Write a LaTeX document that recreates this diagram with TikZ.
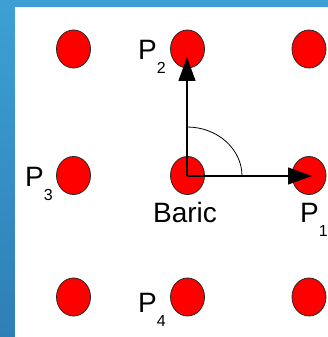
\documentclass[tikz,border=0pt]{standalone}
\usepackage{fontspec}
\setmainfont{Liberation Sans}
\usetikzlibrary{arrows.meta,shapes.geometric}
\newcommand{\subf}[1]{\raisebox{-13.5pt}{\fontsize{16}{16}\selectfont #1}}
\begin{document}
\begin{tikzpicture}[x=1pt,y=1pt,
  dot/.style={ellipse,minimum width=34pt,minimum height=38pt,inner sep=0pt,fill=red,draw=black!85,line width=0.8pt},
  lbl/.style={inner sep=0pt,anchor=base west,font=\fontsize{28}{28}\selectfont},
  vec/.style={line width=1.2pt,-{Triangle[length=24pt,width=17pt]}},
  ang/.style={line width=0.8pt}]
\useasboundingbox (0,0) rectangle (328,337);
\shade[top color={rgb,255:red,61;green,160;blue,212},bottom color={rgb,255:red,46;green,127;blue,182}] (0,0) rectangle (15,337);
\shade[top color={rgb,255:red,61;green,160;blue,212},bottom color={rgb,255:red,60;green,157;blue,210}] (15,330) rectangle (328,337);
\fill[white] (15,0) rectangle (328,330);
% dots
\node[dot] (c11) at (73.5,288) {};
\node[dot] (c12) at (187.5,288) {};
\node[dot] (c13) at (309,288) {};
\node[dot] (c21) at (73.5,161.5) {};
\node[dot] (c22) at (187.5,161.5) {};
\node[dot] (c23) at (309,161.5) {};
\node[dot] (c31) at (73.5,40) {};
\node[dot] (c32) at (187.5,40) {};
\node[dot] (c33) at (309,40) {};
% vectors
\coordinate (o) at (187,161);
\coordinate (t2) at (187,280);
\coordinate (t1) at (312,161);
\draw[ang] (187,210) arc[start angle=90,end angle=0,x radius=55,y radius=49];
\draw[vec] (o) -- (t2);
\draw[vec] (o) -- (t1);
% labels
\node[lbl] (p2) at (138,277) {P\subf{2}};
\node[lbl] (p3) at (25,150) {P\subf{3}};
\node[lbl] (p1) at (300,114) {P\subf{1}};
\node[lbl] (p4) at (138,24) {P\subf{4}};
\node[lbl,anchor=base] (baric) at (185,114) {Baric};
\end{tikzpicture}
\end{document}
